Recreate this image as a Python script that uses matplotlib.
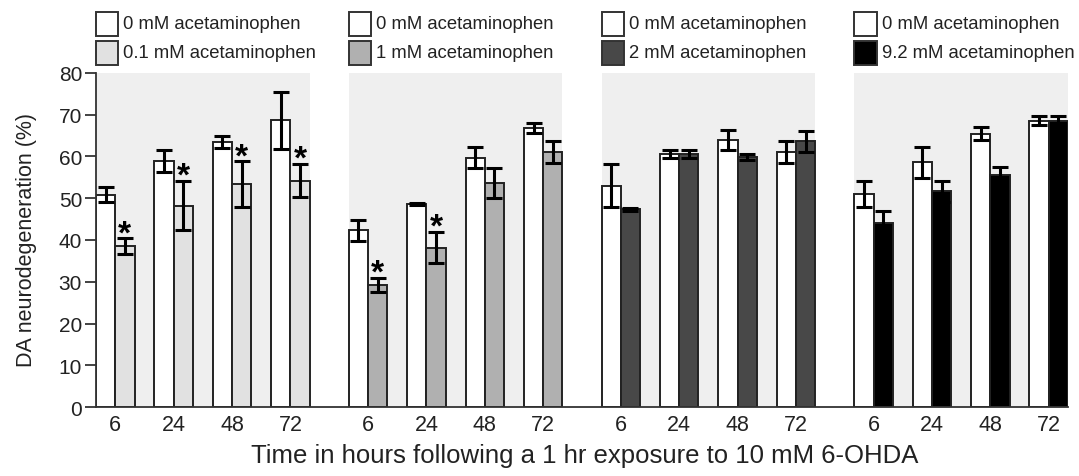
import numpy as np
import matplotlib
matplotlib.use("Agg")
import matplotlib.pyplot as plt
from matplotlib.patches import Rectangle
import matplotlib.transforms as mtransforms

plt.rcParams['font.family'] = ['Liberation Sans', 'DejaVu Sans']

# data
hours = ["6", "24", "48", "72"]
control_label = "0 mM acetaminophen"
dose_labels = ["0.1 mM acetaminophen", "1 mM acetaminophen",
               "2 mM acetaminophen", "9.2 mM acetaminophen"]
ctrl_mean = [[50.8, 58.9, 63.4, 68.6],
             [42.3, 48.6, 59.7, 66.8],
             [53.0, 60.5, 63.8, 61.0],
             [51.0, 58.6, 65.4, 68.5]]
ctrl_err = [[1.8, 2.7, 1.4, 6.8],
            [2.6, 0.3, 2.5, 1.2],
            [5.1, 1.0, 2.4, 2.6],
            [3.0, 3.7, 1.6, 1.1]]
treat_mean = [[38.5, 48.2, 53.3, 54.2],
              [29.2, 38.2, 53.6, 61.0],
              [47.3, 60.6, 59.8, 63.6],
              [44.0, 51.6, 55.5, 68.5]]
treat_err = [[1.9, 5.9, 5.5, 4.0],
             [1.7, 3.7, 3.6, 2.7],
             [0.3, 1.0, 0.7, 2.5],
             [3.0, 2.6, 2.0, 1.2]]
significant = [[1, 1, 1, 1],
               [1, 1, 0, 0],
               [0, 0, 0, 0],
               [0, 0, 0, 0]]

treat_colors = ["#e1e1e1", "#b0b0b0", "#484848", "#000000"]
panel_step = 4.33
bw = 0.33

fig = plt.figure(figsize=(10.79, 4.77), dpi=100)
ax = fig.add_axes([96 / 1079, 68.7 / 477, 972 / 1079, 334.6 / 477])

trans = mtransforms.blended_transform_factory(ax.transData, ax.transAxes)
xticks = []
xticklabels = []
for p in range(4):
    x = np.arange(4) + p * panel_step
    left = x[0] - bw
    right = x[-1] + bw
    ax.axvspan(left, right, color="#efefef", zorder=0, lw=0)

    ax.bar(x - bw / 2, ctrl_mean[p], bw, color="white", edgecolor="#222222",
           linewidth=1.4, zorder=2)
    ax.bar(x + bw / 2, treat_mean[p], bw, color=treat_colors[p],
           edgecolor="#222222", linewidth=1.4, zorder=2)
    ax.errorbar(x - bw / 2, ctrl_mean[p], yerr=ctrl_err[p], fmt="none",
                ecolor="black", elinewidth=2.2, capsize=6, capthick=2.2, zorder=3)
    ax.errorbar(x + bw / 2, treat_mean[p], yerr=treat_err[p], fmt="none",
                ecolor="black", elinewidth=2.2, capsize=6, capthick=2.2, zorder=3)

    for i in range(4):
        if significant[p][i]:
            ax.text(x[i] + bw / 2, treat_mean[p][i] + treat_err[p][i] - 0.9, "*",
                    ha="center", va="baseline", fontsize=24, fontweight="bold")

    # legend boxes above each panel
    box_w = 0.38
    for j, (lab, col) in enumerate([(control_label, "white"),
                                    (dose_labels[p], treat_colors[p])]):
        y0 = 1.111 - j * 0.087
        ax.add_patch(Rectangle((left, y0), box_w, 0.071, transform=trans,
                               facecolor=col, edgecolor="#333333", lw=1.4,
                               clip_on=False))
        ax.text(left + box_w + 0.09, y0 + 0.035, lab, transform=trans,
                fontsize=13.3, va="center", ha="left", color="#222222")

    xticks.extend(x)
    xticklabels.extend(hours)

ax.set_xlim(-bw, 3 * panel_step + 3 + bw)
ax.set_ylim(0, 80)
ax.set_yticks(np.arange(0, 81, 10))
ax.set_xticks(xticks)
ax.set_xticklabels(xticklabels)
ax.tick_params(axis="x", length=0, labelsize=15.5, pad=5, colors="#222222")
ax.tick_params(axis="y", length=8, width=1.2, labelsize=15, pad=2,
               colors="#222222")
for s in ["top", "right"]:
    ax.spines[s].set_visible(False)
for s in ["left", "bottom"]:
    ax.spines[s].set_linewidth(1.3)
    ax.spines[s].set_color("#333333")

fig.text(585 / 1079, 1 - 456 / 477,
         "Time in hours following a 1 hr exposure to 10 mM 6-OHDA",
         ha="center", va="center", fontsize=18.5, color="#222222")
fig.text(27 / 1079, 1 - 240 / 477, "DA neurodegeneration (%)", rotation=90,
         ha="center", va="center", fontsize=15.5, color="#222222")

fig.savefig("out.png", dpi=100)
